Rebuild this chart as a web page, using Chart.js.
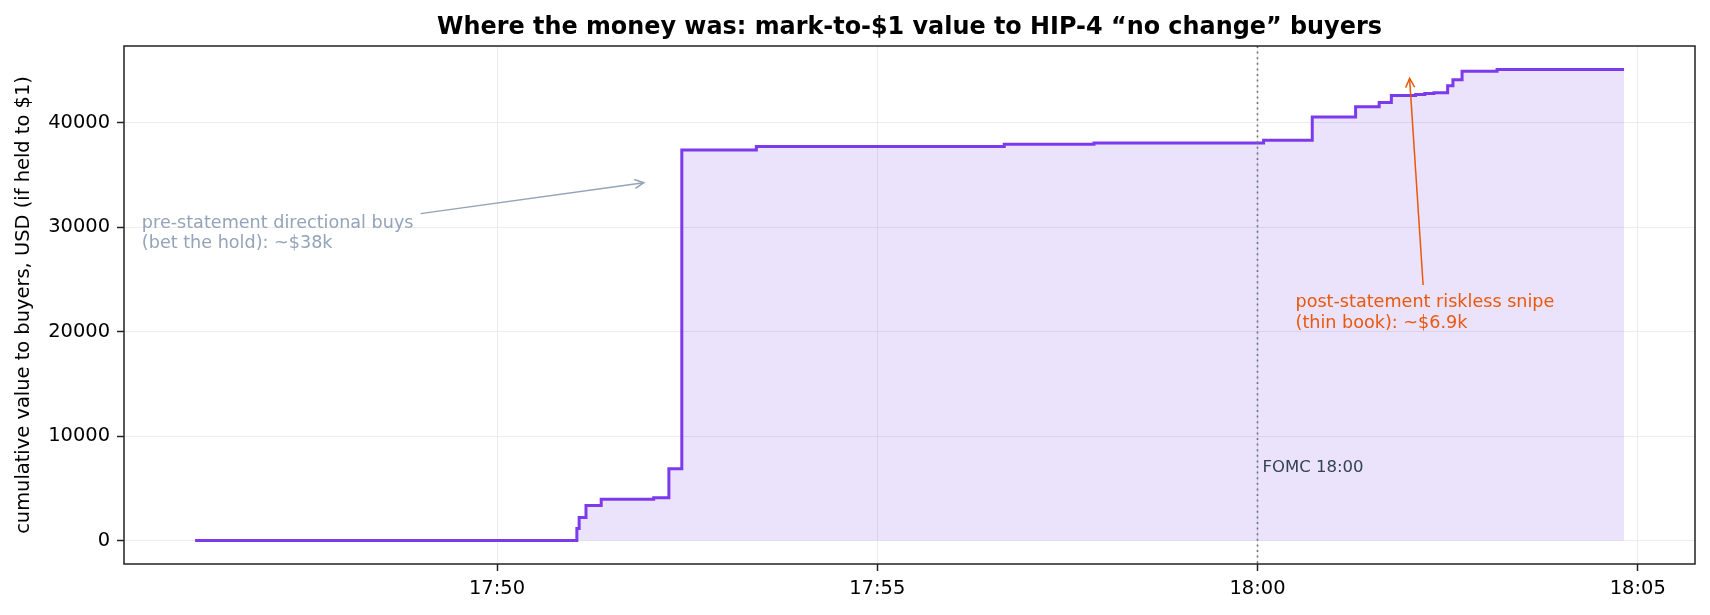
<!DOCTYPE html>
<html>
<head>
<meta charset="utf-8">
<script src="https://cdn.jsdelivr.net/npm/chart.js@4"></script>
<style>
html,body{margin:0;padding:0;background:#fff;}
canvas{display:block;}
</style>
</head>
<body>
<canvas id="c" width="1710" height="615"></canvas>
<script>
// ---- data (minutes after 17:00, cumulative USD value) ----
const stepMinutes = [46.03, 51.05, 51.08, 51.17, 51.37, 52.06, 52.26, 52.43, 53.41, 56.67, 57.85,
  60.08, 60.72, 61.29, 61.60, 61.76, 62.08, 62.20, 62.32, 62.50, 62.57, 62.69, 63.15, 64.82];
const cumulativeValue = [0, 1150, 2200, 3350, 3950, 4100, 6880, 37400, 37750, 37950, 38080,
  38330, 40560, 41550, 41960, 42630, 42720, 42820, 42880, 43550, 44130, 44960, 45110, 45110];
const xTickValues = [50, 55, 60, 65];
const xTickLabels = ["17:50", "17:55", "18:00", "18:05"];
const yTickValues = [0, 10000, 20000, 30000, 40000];
const fomcMinute = 60;
const fomcLabel = "FOMC 18:00";
const fomcLabelValue = 7000;
const chartTitle = "Where the money was: mark-to-$1 value to HIP-4 \u201cno change\u201d buyers";
const yAxisTitle = "cumulative value to buyers, USD (if held to $1)";
const noteLines = [["pre-statement directional buys", "(bet the hold): ~$38k"],
                   ["post-statement riskless snipe", "(thin book): ~$6.9k"]];
const noteTextAt = [[45.33, 29420], [60.50, 21820]];
const noteArrowTo = [[51.93, 34270], [62.0, 44270]];

// ---- styles ----
const FONT = "'DejaVu Sans', sans-serif";
const noteColors = ["#94a3b8", "#ea580c"];
const points = stepMinutes.map((m, i) => ({x: m, y: cumulativeValue[i]}));

const overlay = {
  id: 'overlay',
  afterDatasetsDraw(chart) {
    const {ctx, chartArea: a, scales: {x, y}} = chart;
    ctx.save();
    const fx = x.getPixelForValue(fomcMinute);
    ctx.strokeStyle = '#6b7280';
    ctx.lineWidth = 1.6;
    ctx.setLineDash([2, 3.6]);
    ctx.beginPath(); ctx.moveTo(fx, a.top); ctx.lineTo(fx, a.bottom); ctx.stroke();
    ctx.setLineDash([]);
    ctx.fillStyle = '#334155';
    ctx.font = `16.5px ${FONT}`;
    ctx.textAlign = 'left'; ctx.textBaseline = 'middle';
    ctx.fillText(fomcLabel, fx + 5, y.getPixelForValue(fomcLabelValue));
    ctx.strokeStyle = '#222';
    ctx.lineWidth = 1.5;
    ctx.strokeRect(a.left, a.top, a.right - a.left, a.bottom - a.top);
    ctx.restore();
  },
  afterDraw(chart) {
    const {ctx, chartArea: a, scales: {x, y}} = chart;
    ctx.save();
    ctx.fillStyle = '#000';
    ctx.font = `bold 23.9px ${FONT}`;
    ctx.textAlign = 'center'; ctx.textBaseline = 'middle';
    ctx.fillText(chartTitle, (a.left + a.right) / 2, 28);
    ctx.save();
    ctx.translate(24, (a.top + a.bottom) / 2);
    ctx.rotate(-Math.PI / 2);
    ctx.font = `19.44px ${FONT}`;
    ctx.fillText(yAxisTitle, 0, 0);
    ctx.restore();
    ctx.font = `17.6px ${FONT}`;
    const lh = 20.7;
    noteLines.forEach((lines, i) => {
      const col = noteColors[i];
      const tx = x.getPixelForValue(noteTextAt[i][0]);
      const cy = y.getPixelForValue(noteTextAt[i][1]);
      ctx.fillStyle = col;
      ctx.textAlign = 'left'; ctx.textBaseline = 'middle';
      let w = 0;
      lines.forEach((s, k) => {
        ctx.fillText(s, tx, cy + (k - (lines.length - 1) / 2) * lh);
        w = Math.max(w, ctx.measureText(s).width);
      });
      const pad = 7;
      const L = tx - pad, R = tx + w + pad, T = cy - lines.length * lh / 2 - pad, B = cy + lines.length * lh / 2 + pad;
      const cx = tx + w / 2;
      const ex = x.getPixelForValue(noteArrowTo[i][0]);
      const ey = y.getPixelForValue(noteArrowTo[i][1]);
      const dx = ex - cx, dy = ey - cy;
      const tX = dx > 0 ? (R - cx) / dx : dx < 0 ? (L - cx) / dx : Infinity;
      const tY = dy > 0 ? (B - cy) / dy : dy < 0 ? (T - cy) / dy : Infinity;
      const t = Math.min(tX, tY);
      const sx = cx + dx * t, sy = cy + dy * t;
      ctx.strokeStyle = col;
      ctx.lineWidth = 1.5;
      ctx.beginPath(); ctx.moveTo(sx, sy); ctx.lineTo(ex, ey); ctx.stroke();
      const ang = Math.atan2(ey - sy, ex - sx);
      const hl = 9, hw = 4.5;
      const ux = Math.cos(ang), uy = Math.sin(ang);
      ctx.beginPath();
      ctx.moveTo(ex - ux * hl - uy * hw, ey - uy * hl + ux * hw);
      ctx.lineTo(ex, ey);
      ctx.lineTo(ex - ux * hl + uy * hw, ey - uy * hl - ux * hw);
      ctx.stroke();
    });
    ctx.restore();
  }
};

new Chart(document.getElementById('c'), {
  type: 'line',
  data: {
    datasets: [{
      data: points,
      stepped: 'before',
      borderColor: '#7c3aed',
      borderWidth: 3,
      pointRadius: 0,
      fill: 'origin',
      backgroundColor: 'rgba(124,58,237,0.15)'
    }]
  },
  options: {
    responsive: false,
    animation: false,
    devicePixelRatio: 1,
    layout: {padding: {top: 46, right: 15, left: 0, bottom: 0}},
    plugins: {legend: {display: false}, title: {display: false}, tooltip: {enabled: false}},
    scales: {
      x: {
        type: 'linear',
        min: 45.095, max: 65.753,
        afterBuildTicks: s => { s.ticks = xTickValues.map(v => ({value: v})); },
        afterFit: s => { s.height = 51; },
        ticks: {
          autoSkip: false, maxRotation: 0, padding: 6, color: '#000',
          font: {family: FONT, size: 19.44},
          callback: v => xTickLabels[xTickValues.indexOf(v)]
        },
        grid: {color: '#ececec', lineWidth: 1, tickColor: '#222', tickLength: 7, tickWidth: 1.5},
        border: {display: false}
      },
      y: {
        min: -2255, max: 47370,
        afterBuildTicks: s => { s.ticks = yTickValues.map(v => ({value: v})); },
        afterFit: s => { s.width = 124; },
        ticks: {
          autoSkip: false, padding: 7, color: '#000',
          font: {family: FONT, size: 19.44},
          callback: v => String(v)
        },
        grid: {color: '#ececec', lineWidth: 1, tickColor: '#222', tickLength: 7, tickWidth: 1.5},
        border: {display: false}
      }
    }
  },
  plugins: [overlay]
});
</script>
</body>
</html>
